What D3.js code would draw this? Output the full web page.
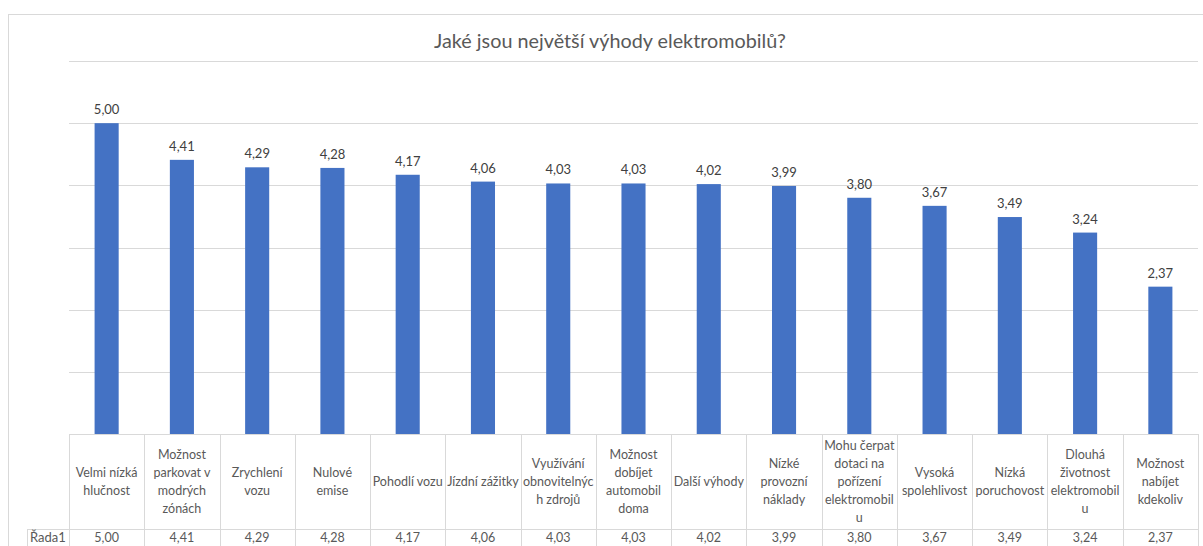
<!DOCTYPE html>
<html>
<head>
<meta charset="utf-8">
<script src="https://cdn.jsdelivr.net/npm/d3@7"></script>
<style>
  html, body { margin: 0; padding: 0; background: #fff; }
  svg { display: block; font-family: Lato, "Open Sans", sans-serif; }
</style>
</head>
<body>
<svg id="chart" width="1203" height="546"></svg>
<script>
// Survey: average rating of electric car advantages
const chartTitle = "Jaké jsou největší výhody elektromobilů?";
const seriesName = "Řada1";
const categories = [
  "Velmi nízká hlučnost",
  "Možnost parkovat v modrých zónách",
  "Zrychlení vozu",
  "Nulové emise",
  "Pohodlí vozu",
  "Jízdní zážitky",
  "Využívání obnovitelných zdrojů",
  "Možnost dobíjet automobil doma",
  "Další výhody",
  "Nízké provozní náklady",
  "Mohu čerpat dotaci na pořízení elektromobilu",
  "Vysoká spolehlivost",
  "Nízká poruchovost",
  "Dlouhá životnost elektromobilu",
  "Možnost nabíjet kdekoliv"
];
// wrapped header lines for the data table
const categoryLines = [
  ["Velmi nízká", "hlučnost"],
  ["Možnost", "parkovat v", "modrých", "zónách"],
  ["Zrychlení", "vozu"],
  ["Nulové", "emise"],
  ["Pohodlí vozu"],
  ["Jízdní zážitky"],
  ["Využívání", "obnovitelnýc", "h zdrojů"],
  ["Možnost", "dobíjet", "automobil", "doma"],
  ["Další výhody"],
  ["Nízké", "provozní", "náklady"],
  ["Mohu čerpat", "dotaci na", "pořízení", "elektromobil", "u"],
  ["Vysoká", "spolehlivost"],
  ["Nízká", "poruchovost"],
  ["Dlouhá", "životnost", "elektromobil", "u"],
  ["Možnost", "nabíjet", "kdekoliv"]
];
const values = [5.00, 4.41, 4.29, 4.28, 4.17, 4.06, 4.03, 4.03, 4.02, 3.99, 3.80, 3.67, 3.49, 3.24, 2.37];
const gridTicks = [0, 1, 2, 3, 4, 5, 6];

const svg = d3.select("#chart");
const gridColor = "#d9d9d9";
const textColor = "#595959";
const fmt = d3.formatLocale({ decimal: ",", thousands: " ", grouping: [3], currency: ["", " Kč"] }).format(".2f");

const plot = { left: 69, right: 1198, top: 61, bottom: 434 };

// outer chart frame
svg.append("rect")
  .attr("x", 8.5).attr("y", 14.5)
  .attr("width", 1220).attr("height", 560)
  .attr("fill", "#fff").attr("stroke", gridColor);

const x = d3.scaleBand()
  .domain(categories)
  .range([plot.left, plot.right])
  .paddingInner(0.68).paddingOuter(0.34);

const y = d3.scaleLinear().domain([0, 6]).range([plot.bottom, plot.top]);

// horizontal gridlines
svg.append("g")
  .selectAll("line")
  .data(gridTicks)
  .join("line")
  .attr("x1", plot.left).attr("x2", plot.right)
  .attr("y1", d => Math.round(y(d)) + 0.5)
  .attr("y2", d => Math.round(y(d)) + 0.5)
  .attr("stroke", gridColor).attr("stroke-width", 1);

// title
svg.append("text")
  .attr("x", 610).attr("y", 48)
  .attr("text-anchor", "middle")
  .attr("font-size", 19.8)
  .attr("fill", textColor)
  .text(chartTitle);

// bars
svg.append("g")
  .selectAll("rect")
  .data(values)
  .join("rect")
  .attr("x", (d, i) => x(categories[i]))
  .attr("width", x.bandwidth())
  .attr("y", d => y(d))
  .attr("height", d => y(0) - y(d))
  .attr("fill", "#4472c4");

// value labels
svg.append("g")
  .selectAll("text")
  .data(values)
  .join("text")
  .attr("x", (d, i) => x(categories[i]) + x.bandwidth() / 2)
  .attr("y", d => y(d) - 9)
  .attr("text-anchor", "middle")
  .attr("font-size", 13)
  .attr("fill", "#404040")
  .text(d => fmt(d));

// data table
const colW = (plot.right - plot.left) / categories.length;
const headTop = plot.bottom, headBottom = 529, rowBottom = 560;
const valueBaseline = 542;
const table = svg.append("g");

// vertical cell borders
table.selectAll("line.v")
  .data(d3.range(categories.length + 1))
  .join("line")
  .attr("class", "v")
  .attr("x1", i => Math.round(plot.left + i * colW) + 0.5)
  .attr("x2", i => Math.round(plot.left + i * colW) + 0.5)
  .attr("y1", headTop).attr("y2", rowBottom)
  .attr("stroke", gridColor);

// row separator and series label cell
table.append("line")
  .attr("x1", 27).attr("x2", plot.right)
  .attr("y1", headBottom + 0.5).attr("y2", headBottom + 0.5)
  .attr("stroke", gridColor);
table.append("line")
  .attr("x1", 27.5).attr("x2", 27.5)
  .attr("y1", headBottom).attr("y2", rowBottom)
  .attr("stroke", gridColor);
table.append("text")
  .attr("x", 30).attr("y", valueBaseline)
  .attr("font-size", 13)
  .attr("fill", textColor)
  .text(seriesName);

// header cells
const lineH = 18;
const headMid = (headTop + headBottom) / 2;
table.selectAll("text.cat")
  .data(categoryLines)
  .join("text")
  .attr("class", "cat")
  .attr("text-anchor", "middle")
  .attr("font-size", 12.5)
  .attr("fill", textColor)
  .each(function (lines, i) {
    const cx = x(categories[i]) + x.bandwidth() / 2;
    const y0 = headMid - (lines.length - 1) * lineH / 2 + 4.5;
    d3.select(this).selectAll("tspan")
      .data(lines)
      .join("tspan")
      .attr("x", cx)
      .attr("y", (l, k) => y0 + k * lineH)
      .text(l => l);
  });

// value cells
table.selectAll("text.val")
  .data(values)
  .join("text")
  .attr("class", "val")
  .attr("x", (d, i) => x(categories[i]) + x.bandwidth() / 2)
  .attr("y", valueBaseline)
  .attr("text-anchor", "middle")
  .attr("font-size", 12.5)
  .attr("fill", textColor)
  .text(d => fmt(d));
</script>
</body>
</html>
